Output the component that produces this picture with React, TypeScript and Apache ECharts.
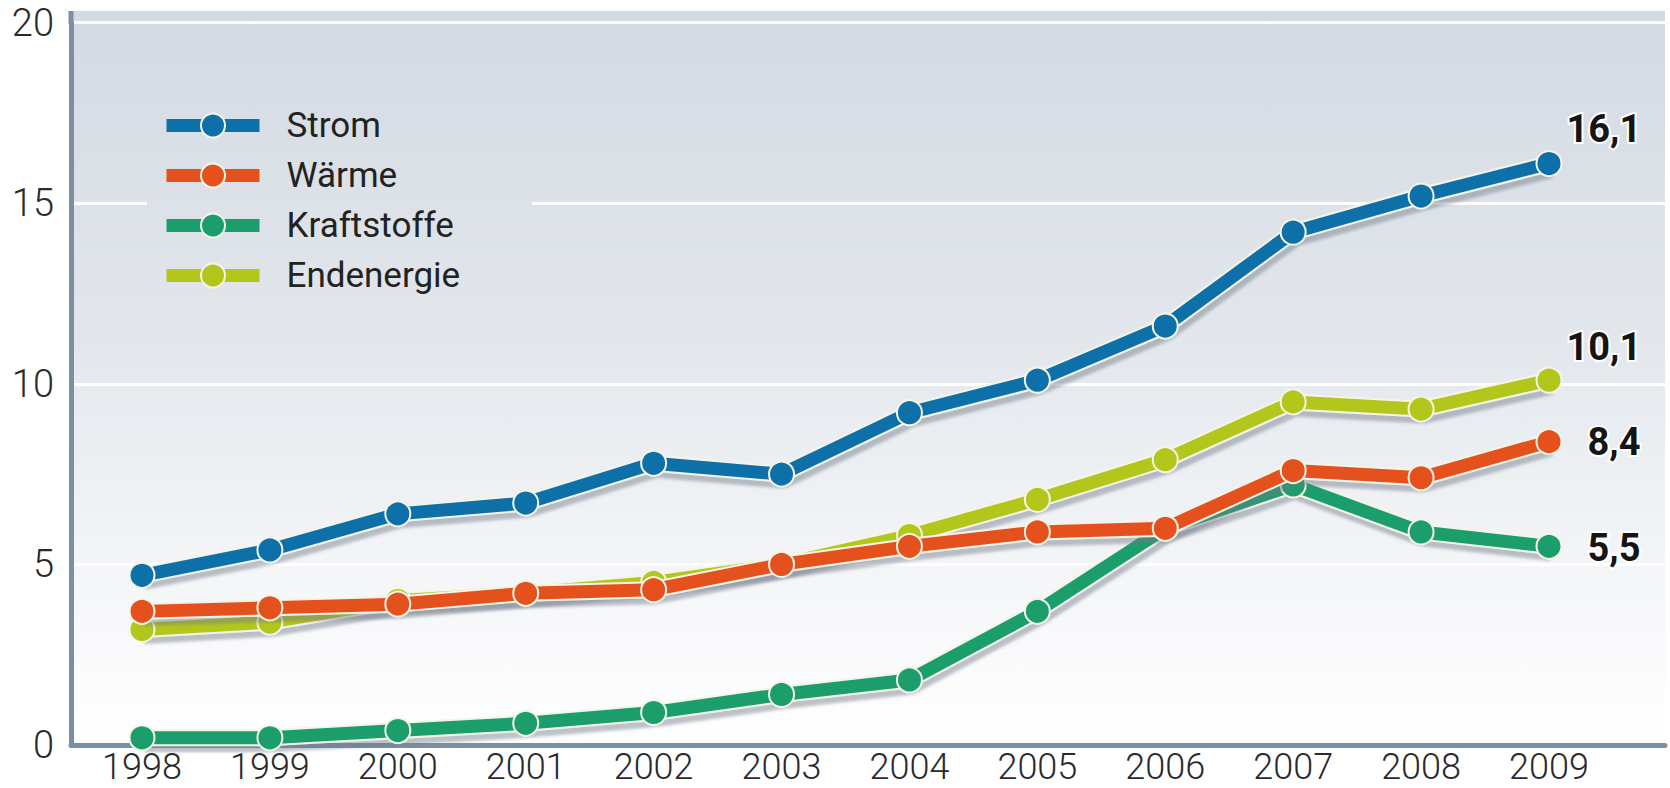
import React, { useEffect, useRef } from "react";
import * as echarts from "echarts";

const years = [1998, 1999, 2000, 2001, 2002, 2003, 2004, 2005, 2006, 2007, 2008, 2009];
const strom = [4.7, 5.4, 6.4, 6.7, 7.8, 7.5, 9.2, 10.1, 11.6, 14.2, 15.2, 16.1];
const waerme = [3.7, 3.8, 3.9, 4.2, 4.3, 5.0, 5.5, 5.9, 6.0, 7.6, 7.4, 8.4];
const kraftstoffe = [0.2, 0.2, 0.4, 0.6, 0.9, 1.4, 1.8, 3.7, 6.0, 7.2, 5.9, 5.5];
const endenergie = [3.2, 3.4, 4.0, 4.2, 4.5, 5.0, 5.8, 6.8, 7.9, 9.5, 9.3, 10.1];
const yTicks = [0, 5, 10, 15, 20];

const FONT = "Roboto, 'Noto Sans', sans-serif";

type SeriesDef = {
  name: string;
  values: number[];
  color: string;
  z: number;
  labelOffset: [number, number];
  labelDistance: number;
};

const defs: SeriesDef[] = [
  { name: "Strom", values: strom, color: "#0e70a8", z: 7, labelOffset: [0, -35], labelDistance: 4 },
  { name: "Wärme", values: waerme, color: "#e4511c", z: 5, labelOffset: [0, 0], labelDistance: 25 },
  { name: "Kraftstoffe", values: kraftstoffe, color: "#1c9e6c", z: 3, labelOffset: [0, 2], labelDistance: 25 },
  { name: "Endenergie", values: endenergie, color: "#b3c61b", z: 1, labelOffset: [0, -33], labelDistance: 4 },
];

const bgStops = [
  { offset: 0, color: "#d3dae2" },
  { offset: 0.45, color: "#e3e7ec" },
  { offset: 0.8, color: "#f6f7f9" },
  { offset: 1, color: "#ffffff" },
];

export default function App() {
  const ref = useRef<HTMLDivElement>(null);
  useEffect(() => {
    if (!ref.current) return;
    const chart = echarts.init(ref.current, undefined, { renderer: "svg" });

    const series: any[] = [];
    defs.forEach((d) => {
      series.push({
        name: d.name + "_outline",
        type: "line",
        z: d.z,
        symbol: "none",
        silent: true,
        data: years.map((y, i) => [y, d.values[i]]),
        lineStyle: {
          color: "#f4f5e8",
          width: 17,
          shadowColor: "rgba(110,120,135,0.45)",
          shadowBlur: 3,
          shadowOffsetX: 2,
          shadowOffsetY: 6,
        },
      });
      series.push({
        name: d.name,
        type: "line",
        z: d.z + 1,
        symbol: "circle",
        symbolSize: 25,
        color: d.color,
        lineStyle: { color: d.color, width: 13 },
        itemStyle: { color: d.color, borderColor: "#f4f5e8", borderWidth: 2 },
        data: years.map((y, i) => {
          const item: any = { value: [y, d.values[i]] };
          if (i === years.length - 1) {
            item.label = {
              show: true,
              position: "right",
              distance: d.labelDistance,
              offset: d.labelOffset,
              formatter: () => d.values[i].toFixed(1).replace(".", ","),
              fontFamily: FONT,
              fontWeight: "bold",
              fontSize: 38,
              color: "#151515",
              textBorderColor: "#ffffff",
              textBorderWidth: 4,
            };
          }
          return item;
        }),
      });
    });

    chart.setOption({
      animation: false,
      grid: { left: 71, right: 5, top: 22.7, bottom: 43, containLabel: false },
      graphic: [
        {
          type: "rect",
          z: -10,
          silent: true,
          shape: { x: 71, y: 11, width: 1594, height: 734 },
          style: { fill: new echarts.graphic.LinearGradient(0, 11, 0, 745, bgStops, true) },
        },
        {
          type: "rect",
          z: 1,
          silent: true,
          shape: { x: 147, y: 194, width: 385, height: 16 },
          style: { fill: new echarts.graphic.LinearGradient(0, 11, 0, 745, bgStops, true) },
        },
        {
          type: "rect",
          z: 10,
          silent: true,
          shape: { x: 68.5, y: 11, width: 5, height: 13 },
          style: { fill: "#7b8fa3" },
        },
      ],
      legend: {
        data: defs.map((d) => d.name),
        orient: "vertical",
        left: 147,
        top: 98,
        itemWidth: 93,
        itemHeight: 30,
        itemGap: 15,
        padding: [10, 54, 12, 13],
        lineStyle: { width: 13 },
        selectedMode: false,
        textStyle: {
          fontFamily: FONT,
          fontSize: 35,
          color: "#222222",
          padding: [0, 0, 0, 22],
        },
      },
      xAxis: {
        type: "value",
        min: 1997.445,
        max: 2009.907,
        splitLine: { show: false },
        axisTick: { show: false },
        axisLine: { show: true, onZero: false, lineStyle: { color: "#7b8fa3", width: 5 } },
        axisLabel: {
          customValues: years,
          formatter: (v: number) => String(v),
          fontFamily: FONT,
          fontWeight: 300,
          fontSize: 36,
          lineHeight: 34,
          color: "#2a2a2a",
          margin: 5,
        },
      },
      yAxis: {
        type: "value",
        min: 0,
        max: 20,
        interval: 5,
        axisTick: { show: false },
        axisLine: { show: true, lineStyle: { color: "#7b8fa3", width: 5 } },
        splitLine: { show: true, lineStyle: { color: "#ffffff", width: 3 } },
        axisLabel: {
          formatter: (v: number) => (yTicks.indexOf(v) >= 0 ? String(v) : ""),
          fontFamily: FONT,
          fontWeight: 300,
          fontSize: 38,
          color: "#2a2a2a",
          margin: 17,
        },
      },
      series,
    });
    return () => chart.dispose();
  }, []);

  return (
    <div
      ref={ref}
      style={{ position: "fixed", left: 0, top: 0, width: 1670, height: 788, background: "#ffffff" }}
    />
  );
}
